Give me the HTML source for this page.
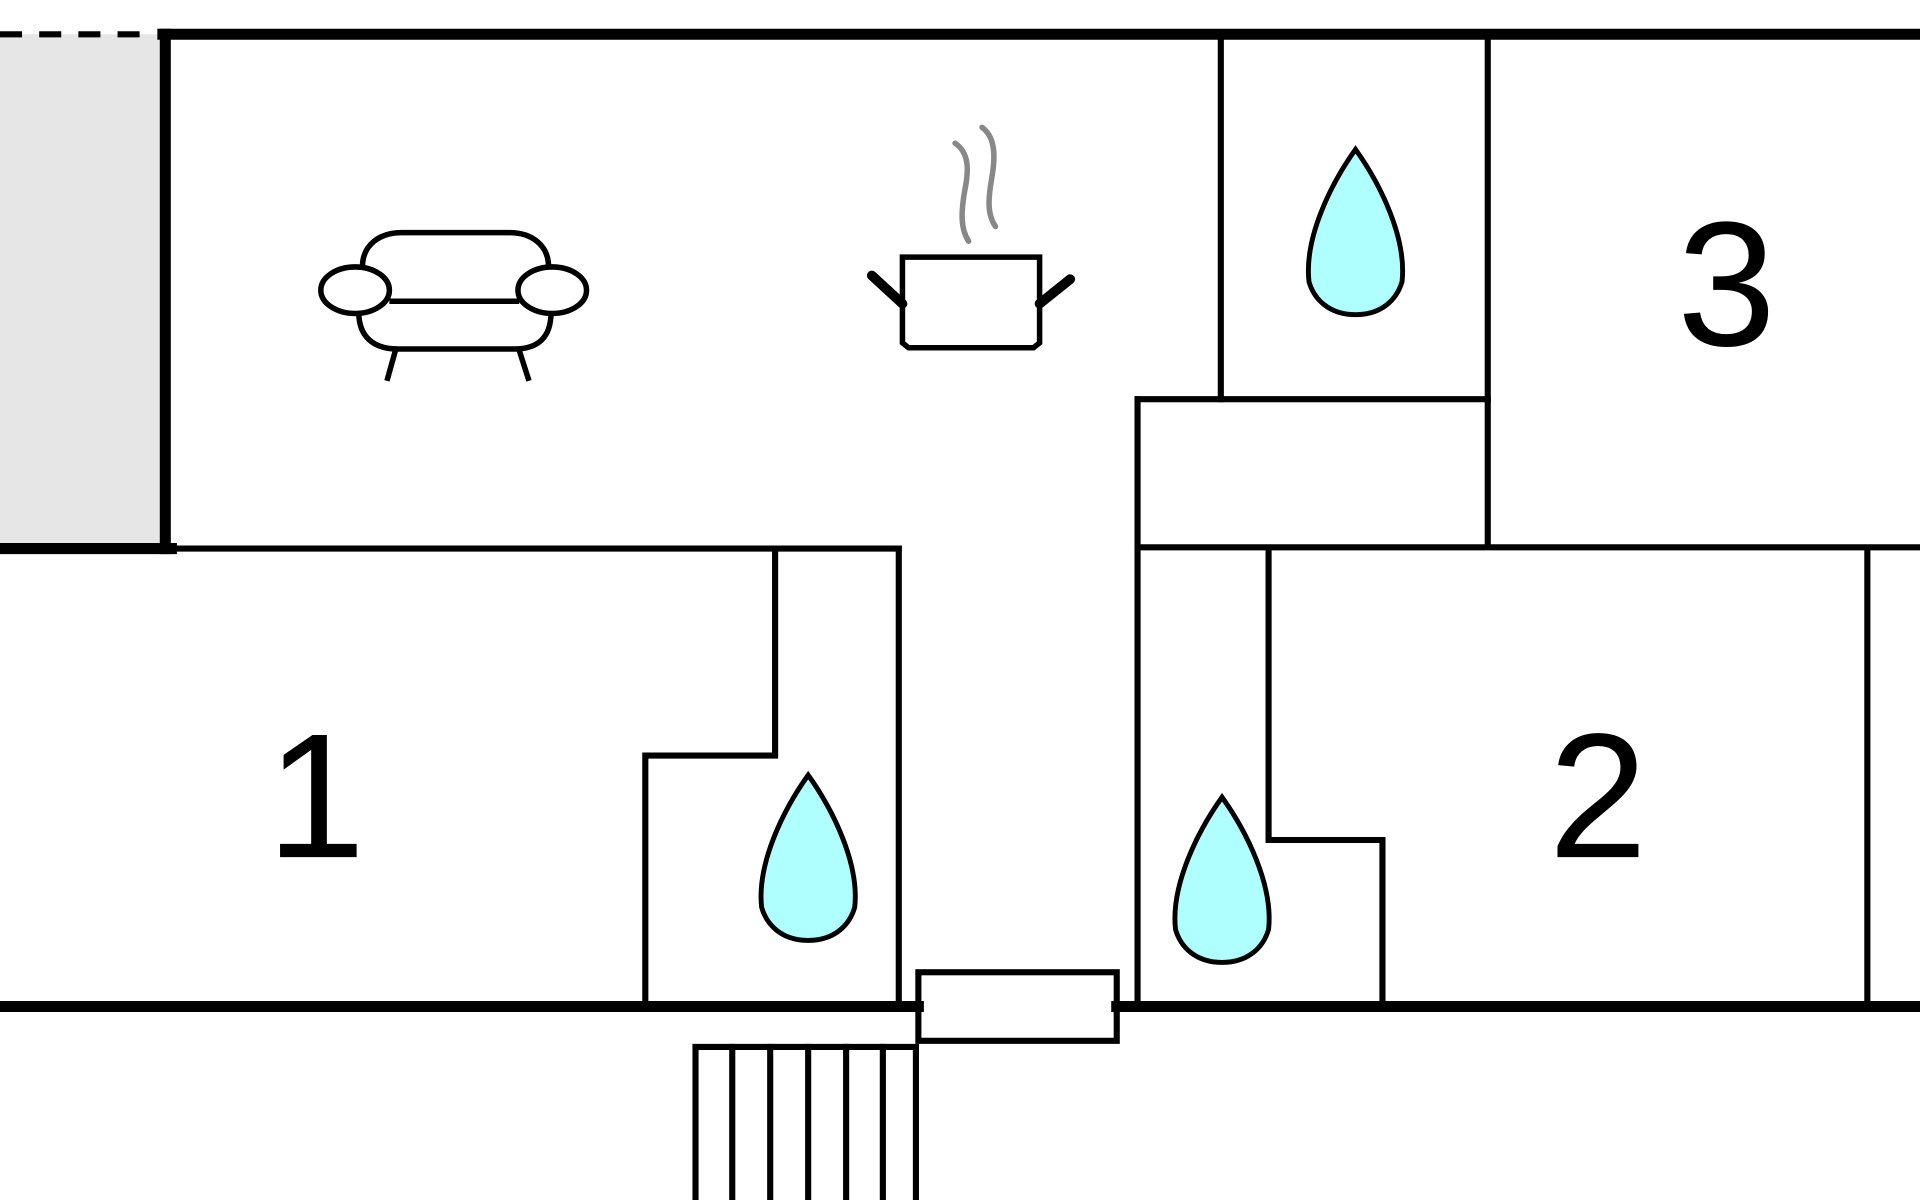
<!DOCTYPE html>
<html><head><meta charset="utf-8"><style>
html,body{margin:0;padding:0;background:#fff;width:1920px;height:1200px;overflow:hidden}
svg{display:block}
</style></head><body>
<svg width="1920" height="1200" viewBox="0 0 1568 980" xmlns="http://www.w3.org/2000/svg">
<rect x="0" y="28" width="135" height="420" fill="#e6e6e6"/>
<g stroke="#000" fill="none" stroke-linecap="square">
<line x1="0" y1="28" x2="120" y2="28" stroke-width="5" stroke-dasharray="18,14" stroke-linecap="butt"/>
<line x1="133" y1="28" x2="1568" y2="28" stroke-width="9"/>
<line x1="135" y1="28" x2="135" y2="448" stroke-width="9"/>
<line x1="0" y1="448" x2="140" y2="448" stroke-width="9"/>
<line x1="0" y1="822" x2="750" y2="822" stroke-width="9"/>
<line x1="912" y1="822" x2="1568" y2="822" stroke-width="9"/>
<g stroke-width="5">
<line x1="140" y1="448" x2="734" y2="448"/>
<line x1="997" y1="28" x2="997" y2="326"/>
<line x1="1215" y1="28" x2="1215" y2="446"/>
<line x1="929" y1="326" x2="1215" y2="326"/>
<line x1="929" y1="326" x2="929" y2="820"/>
<line x1="929" y1="447" x2="1568" y2="447"/>
<polyline points="633,448 633,617 527,617 527,820"/>
<line x1="734" y1="448" x2="734" y2="820"/>
<polyline points="1036,448 1036,686 1129,686 1129,820"/>
<line x1="1525" y1="448" x2="1525" y2="820"/>
<rect x="750" y="794" width="162" height="56"/>
<rect x="568" y="855" width="180" height="130"/>
<line x1="598" y1="855" x2="598" y2="980"/>
<line x1="629" y1="855" x2="629" y2="980"/>
<line x1="660" y1="855" x2="660" y2="980"/>
<line x1="691" y1="855" x2="691" y2="980"/>
<line x1="721" y1="855" x2="721" y2="980"/>
</g>
</g>
<g fill="#b0ffff" stroke="#000" stroke-width="4">
<path transform="translate(1107,122)" d="M0,0 C20,28 42,72 38,108 C34,122 22,135 0,135 C-22,135 -34,122 -38,108 C-42,72 -20,28 0,0 Z"/>
<path transform="translate(660,633)" d="M0,0 C20,28 42,72 38,108 C34,122 22,135 0,135 C-22,135 -34,122 -38,108 C-42,72 -20,28 0,0 Z"/>
<path transform="translate(998,651)" d="M0,0 C20,28 42,72 38,108 C34,122 22,135 0,135 C-22,135 -34,122 -38,108 C-42,72 -20,28 0,0 Z"/>
</g>
<g stroke="#000" stroke-width="4.5" fill="#fff">
<line x1="323" y1="286" x2="316" y2="311"/>
<line x1="424" y1="286" x2="432" y2="311"/>
<path d="M296,218 C296,200 310,190 328,190 L416,190 C434,190 448,200 448,218"/>
<path d="M293,255 C293,275 305,285 325,285 L420,285 C440,285 450,275 450,255"/>
<line x1="318" y1="246" x2="424" y2="246"/>
<ellipse cx="290" cy="237" rx="28" ry="19"/>
<ellipse cx="451" cy="237" rx="28" ry="19"/>
</g>
<g>
<path d="M737,210 L849,210 L849,280 L844,284 L742,284 L737,280 Z" fill="#fff" stroke="#000" stroke-width="4.5"/>
<path d="M712,225 L737,248" stroke="#000" stroke-width="8" stroke-linecap="round"/>
<path d="M849,248 L874,228" stroke="#000" stroke-width="8" stroke-linecap="round"/>
<path d="M780,117 C792,125 791,140 788,155 C785,172 784,186 791,197" stroke="#888" stroke-width="4.5" fill="none" stroke-linecap="round"/>
<path d="M802,104 C813,112 813,128 810,145 C807,162 806,175 813,185" stroke="#888" stroke-width="4.5" fill="none" stroke-linecap="round"/>
</g>
<g font-family="Liberation Sans, sans-serif" font-size="145" fill="#000" text-anchor="middle">
<text x="258" y="700">1</text>
<text x="1305" y="700">2</text>
<text x="1410" y="282">3</text>
</g>
</svg>
</body></html>
